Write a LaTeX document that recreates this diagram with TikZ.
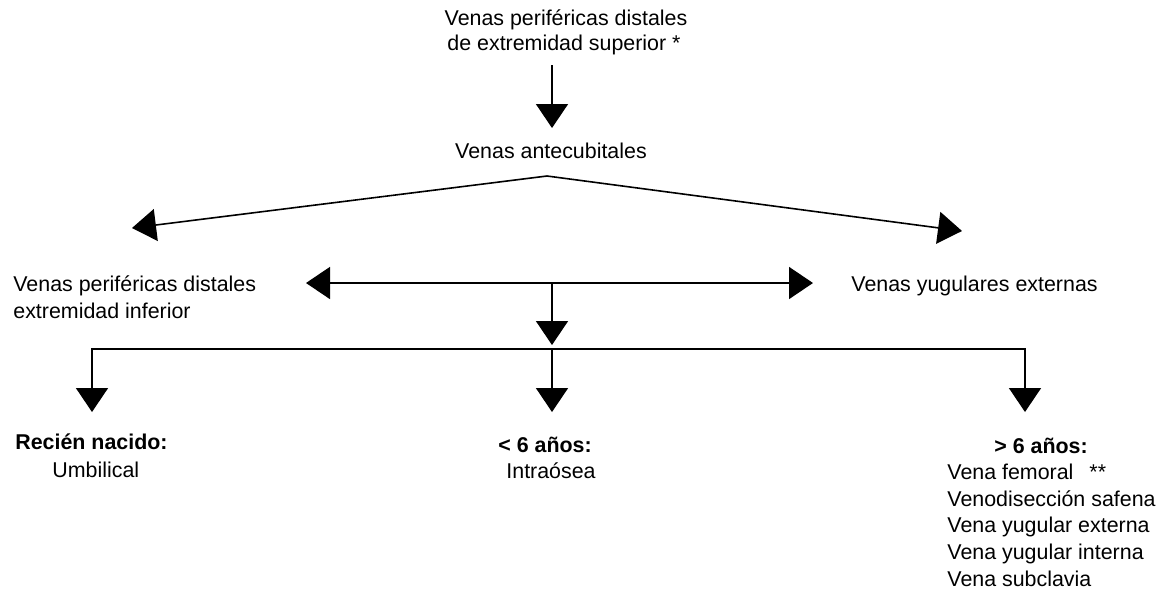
\documentclass[tikz,border=0pt]{standalone}
\usepackage{fontspec}
\setmainfont{Liberation Sans}
\usetikzlibrary{arrows.meta}
\tikzset{flecha/.style={-{Triangle[width=16pt,length=12pt]}, line width=0.8pt}}
\tikzset{dflecha/.style={{Triangle[width=16pt,length=12pt]}-{Triangle[width=16pt,length=12pt]}, line width=0.8pt}}
\tikzset{texto/.style={anchor=base west, inner sep=0pt, font=\fontsize{10.7}{13.3}\selectfont}}

\begin{document}
\begin{tikzpicture}[x=0.5pt,y=-0.5pt]
            \useasboundingbox (0,0) rectangle (1168,591);
            % textos
            \node [texto, anchor=base] (sup1) at (566,25) {Venas periféricas distales};
            \node [texto, anchor=base] (sup2) at (564,50) {de extremidad superior *};
            \node [texto, anchor=base] (ante) at (551,158) {Venas antecubitales};
            \node [texto] (inf1) at (13,291) {Venas periféricas distales};
            \node [texto] (inf2) at (13,318) {extremidad inferior};
            \node [texto] (yug) at (851,291) {Venas yugulares externas};
            \node [texto] (rn) at (15,449) {\bfseries Recién nacido:};
            \node [texto] (umb) at (52,477) {Umbilical};
            \node [texto] (menor) at (498,452) {\bfseries < 6 años:};
            \node [texto] (intra) at (506,478) {Intraósea};
            \node [texto] (mayor) at (994,453) {\bfseries > 6 años:};
            \node [texto] (fem) at (947,479) {Vena femoral\hspace{8pt}**};
            \node [texto] (safena) at (947,506) {Venodisección safena};
            \node [texto] (yext) at (947,532) {Vena yugular externa};
            \node [texto] (yint) at (947,559) {Vena yugular interna};
            \node [texto] (subc) at (947,586) {Vena subclavia};
            % puntos
            \coordinate (s0) at (552,65);
            \coordinate (s1) at (552,128);
            \coordinate (pico) at (547,176);
            \coordinate (izq) at (132,228);
            \coordinate (der) at (962,231);
            \coordinate (hizq) at (306,283);
            \coordinate (hder) at (813,283);
            \coordinate (hmed) at (552,283);
            \coordinate (bmed) at (552,345);
            \coordinate (barra) at (552,349);
            \coordinate (b1) at (92,349);
            \coordinate (b1f) at (92,412);
            \coordinate (b2f) at (552,412);
            \coordinate (b3) at (1025,349);
            \coordinate (b3f) at (1025,412);
            % flechas
            \draw [flecha] (s0) -- (s1);
            \draw [flecha] (pico) -- (izq);
            \draw [flecha] (pico) -- (der);
            \draw [dflecha] (hizq) -- (hder);
            \draw [flecha] (hmed) -- (bmed);
            \draw [flecha] (barra) -- (b1) -- (b1f);
            \draw [flecha] (barra) -- (b2f);
            \draw [flecha] (barra) -- (b3) -- (b3f);
        \end{tikzpicture}
\end{document}
